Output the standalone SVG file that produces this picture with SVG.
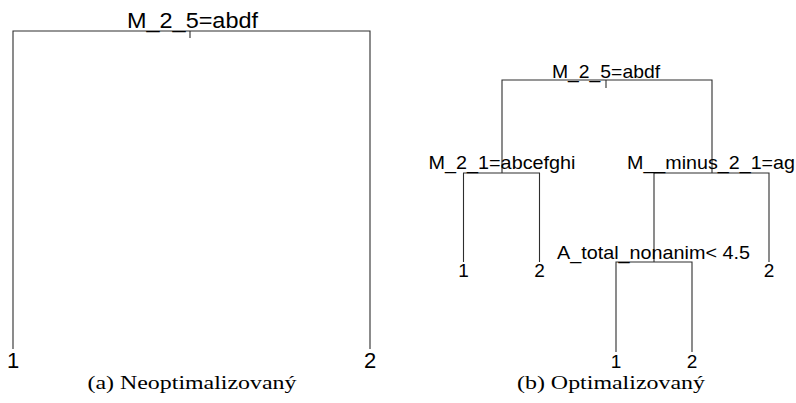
<svg xmlns="http://www.w3.org/2000/svg" width="796" height="403" viewBox="0 0 796 403">
  <style>
    .edge { fill: none; stroke: #2e2e2e; stroke-width: 1.1; }
    .lbl { font-family: "Liberation Sans", Arial, sans-serif; fill: #000; text-anchor: middle; }
    .big { font-size: 22px; }
    .small { font-size: 19px; }
    .cap { font-family: "Liberation Serif", "Times New Roman", serif; font-size: 19px; fill: #000; text-anchor: middle; }
  </style>
  <rect width="796" height="403" fill="#fff"/>

  <!-- (a) unoptimized tree: a single split -->
  <g id="edges-a">
    <path class="edge" d="M13,349 V31 H370 V349"/>
    <path class="edge" d="M190,31 V38"/>
  </g>
  <g id="a-root"><text class="lbl big" x="192.5" y="28" textLength="131" lengthAdjust="spacingAndGlyphs">M_2_5=abdf</text></g>
  <g id="a-leaf1"><text class="lbl big" x="13" y="368">1</text></g>
  <g id="a-leaf2"><text class="lbl big" x="370" y="368">2</text></g>
  <g id="caption-a"><text class="cap" x="192" y="389" textLength="209" lengthAdjust="spacingAndGlyphs">(a) Neoptimalizovaný</text></g>

  <!-- (b) optimized tree -->
  <g id="edges-b">
    <path class="edge" d="M502,173 V80 H712 V173"/>
    <path class="edge" d="M606,80 V88"/>
    <path class="edge" d="M463.5,262 V173 H539.5 V262"/>
    <path class="edge" d="M654,262 V173 H769 V262"/>
    <path class="edge" d="M616,352 V262 H692 V352"/>
  </g>
  <g id="b-root"><text class="lbl small" x="606" y="78" textLength="108" lengthAdjust="spacingAndGlyphs">M_2_5=abdf</text></g>
  <g id="b-left"><text class="lbl small" x="502" y="168.5" textLength="147" lengthAdjust="spacingAndGlyphs">M_2_1=abcefghi</text></g>
  <g id="b-right"><text class="lbl small" x="711" y="168.5" textLength="168" lengthAdjust="spacingAndGlyphs">M__minus_2_1=ag</text></g>
  <g id="b-rl"><text class="lbl small" x="653.5" y="258.5" textLength="193" lengthAdjust="spacingAndGlyphs">A_total_nonanim&lt; 4.5</text></g>
  <g id="b-leaf-ll"><text class="lbl small" x="463.5" y="277">1</text></g>
  <g id="b-leaf-lr"><text class="lbl small" x="539.5" y="277">2</text></g>
  <g id="b-leaf-rr"><text class="lbl small" x="769" y="277">2</text></g>
  <g id="b-leaf-rll"><text class="lbl small" x="616" y="367.5">1</text></g>
  <g id="b-leaf-rlr"><text class="lbl small" x="692" y="367.5">2</text></g>
  <g id="caption-b"><text class="cap" x="611" y="389" textLength="188" lengthAdjust="spacingAndGlyphs">(b) Optimalizovaný</text></g>
</svg>
